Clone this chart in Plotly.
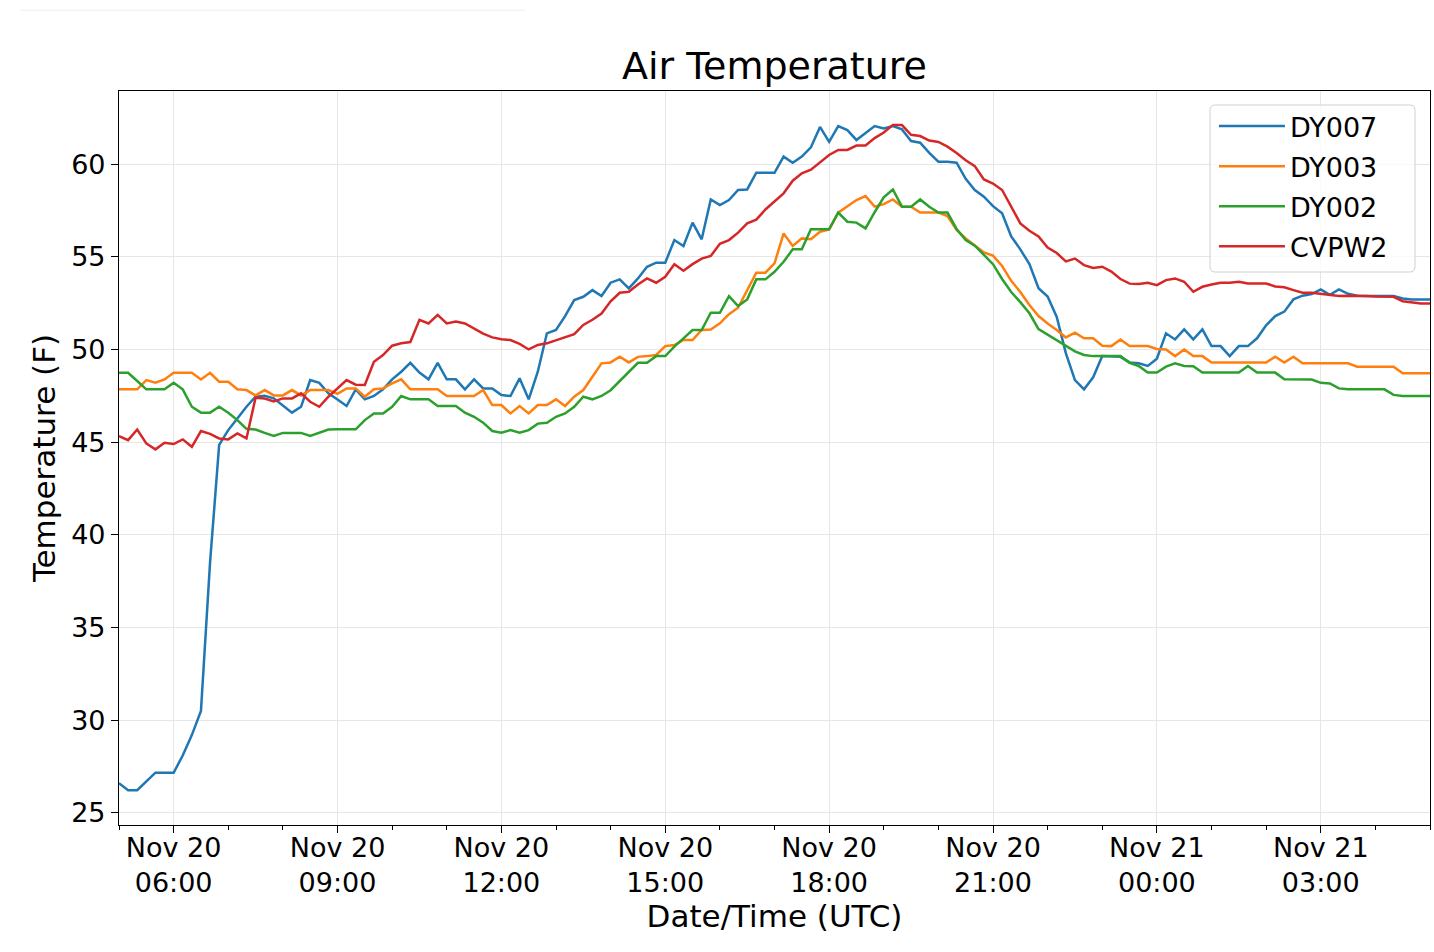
import pandas as pd
import plotly.graph_objects as go

start_time = "2018-11-20 05:00"
n_points = 145
times = pd.date_range(start=start_time, periods=n_points, freq="10min")

series_names = ["DY007", "DY003", "DY002", "CVPW2"]
series_colors = ["#1f77b4", "#ff7f0e", "#2ca02c", "#d62728"]

dy007 = [26.6, 26.23, 26.23, 26.68, 27.17, 27.17, 27.17, 28.1, 29.2, 30.5,
         38.5, 44.85, 45.65, 46.28, 46.91, 47.45, 47.5, 47.36, 47.0, 46.59,
         46.91, 48.35, 48.2, 47.63, 47.3, 46.95, 47.85, 47.31, 47.49, 47.85,
         48.39, 48.8, 49.28, 48.75, 48.39, 49.28, 48.39, 48.39, 47.85, 48.39,
         47.9, 47.9, 47.54, 47.49, 48.44, 47.31, 48.8, 50.87, 51.05, 51.8,
         52.66, 52.84, 53.2, 52.88, 53.6, 53.78, 53.29, 53.83, 54.46, 54.68,
         54.68, 55.9, 55.58, 56.84, 55.94, 58.09, 57.79, 58.06, 58.6, 58.63,
         59.53, 59.53, 59.53, 60.4, 60.07, 60.4, 60.9, 62.0, 61.2, 62.05,
         61.83, 61.3, 61.7, 62.05, 61.92, 62.05, 61.87, 61.24, 61.15, 60.6,
         60.13, 60.13, 60.07, 59.2, 58.6, 58.24, 57.73, 57.34, 56.1, 55.4,
         54.6, 53.3, 52.85, 51.75, 49.8, 48.35, 47.85, 48.5, 49.64, 49.64,
         49.6, 49.3, 49.25, 49.11, 49.5, 50.87, 50.54, 51.08, 50.54, 51.08,
         50.18, 50.18, 49.64, 50.18, 50.18, 50.6, 51.3, 51.8, 52.04, 52.7,
         52.9, 52.99, 53.24, 52.95, 53.24, 53.0, 52.9, 52.88, 52.88, 52.88,
         52.88, 52.75, 52.7, 52.7, 52.7]

dy003 = [47.85, 47.85, 47.85, 48.35, 48.21, 48.38, 48.74, 48.74, 48.74, 48.38,
         48.74, 48.26, 48.26, 47.85, 47.81, 47.52, 47.81, 47.52, 47.52, 47.81,
         47.52, 47.81, 47.81, 47.81, 47.6, 47.9, 47.9, 47.45, 47.85, 47.9,
         48.17, 48.39, 47.85, 47.85, 47.85, 47.85, 47.49, 47.49, 47.49, 47.49,
         47.81, 47.0, 47.0, 46.55, 46.95, 46.55, 47.0, 47.0, 47.31, 46.95,
         47.45, 47.81, 48.53, 49.25, 49.3, 49.61, 49.3, 49.6, 49.64, 49.7,
         50.18, 50.24, 50.51, 50.51, 51.05, 51.08, 51.41, 51.9, 52.25, 53.2,
         54.14, 54.14, 54.64, 56.26, 55.58, 55.99, 55.94, 56.35, 56.48, 57.38,
         57.7, 58.06, 58.27, 57.7, 57.84, 58.09, 57.7, 57.7, 57.38, 57.38,
         57.38, 57.2, 56.45, 55.99, 55.6, 55.23, 55.06, 54.5, 53.7, 53.1,
         52.4, 51.8, 51.4, 51.05, 50.65, 50.9, 50.6, 50.6, 50.2, 50.18,
         50.54, 50.18, 50.18, 50.18, 50.03, 50.0, 49.64, 50.0, 49.64, 49.64,
         49.29, 49.29, 49.29, 49.29, 49.29, 49.29, 49.29, 49.61, 49.29, 49.61,
         49.25, 49.25, 49.25, 49.25, 49.25, 49.25, 49.07, 49.07, 49.07, 49.07,
         49.07, 48.71, 48.71, 48.71, 48.71]

dy002 = [48.74, 48.74, 48.3, 47.85, 47.85, 47.85, 48.2, 47.85, 46.91, 46.59,
         46.59, 46.91, 46.59, 46.19, 45.72, 45.68, 45.5, 45.33, 45.5, 45.5,
         45.5, 45.33, 45.5, 45.68, 45.69, 45.69, 45.69, 46.19, 46.55, 46.55,
         46.91, 47.49, 47.31, 47.31, 47.31, 46.95, 46.95, 46.95, 46.59, 46.37,
         46.05, 45.6, 45.51, 45.65, 45.51, 45.65, 46.0, 46.05, 46.37, 46.55,
         46.91, 47.45, 47.31, 47.49, 47.8, 48.3, 48.8, 49.28, 49.28, 49.64,
         49.64, 50.15, 50.6, 51.05, 51.05, 51.98, 51.98, 52.88, 52.34, 52.7,
         53.78, 53.78, 54.19, 54.73, 55.4, 55.4, 56.48, 56.48, 56.48, 57.38,
         56.89, 56.84, 56.53, 57.4, 58.2, 58.63, 57.7, 57.7, 58.09, 57.7,
         57.38, 57.38, 56.5, 55.9, 55.6, 55.1, 54.6, 53.8, 53.1, 52.55,
         51.95, 51.1, 50.8, 50.5, 50.2, 49.9, 49.7, 49.64, 49.64, 49.64,
         49.64, 49.28, 49.11, 48.75, 48.75, 49.07, 49.25, 49.11, 49.1, 48.75,
         48.75, 48.75, 48.75, 48.75, 49.11, 48.75, 48.75, 48.75, 48.39, 48.39,
         48.38, 48.38, 48.2, 48.17, 47.9, 47.85, 47.85, 47.85, 47.85, 47.85,
         47.55, 47.49, 47.49, 47.49, 47.49]

cvpw2 = [45.33, 45.11, 45.68, 44.93, 44.61, 44.97, 44.9, 45.15, 44.75, 45.6,
         45.45, 45.2, 45.15, 45.47, 45.2, 47.4, 47.35, 47.2, 47.36, 47.36,
         47.63, 47.18, 46.91, 47.45, 47.9, 48.35, 48.1, 48.08, 49.34, 49.7,
         50.2, 50.33, 50.4, 51.6, 51.4, 51.86, 51.4, 51.5, 51.4, 51.14,
         50.85, 50.65, 50.55, 50.51, 50.3, 50.0, 50.24, 50.33, 50.5, 50.65,
         50.83, 51.32, 51.6, 51.94, 52.6, 53.06, 53.11, 53.5, 53.83, 53.6,
         53.92, 54.6, 54.25, 54.6, 54.9, 55.04, 55.7, 55.9, 56.3, 56.8,
         57.0, 57.55, 58.0, 58.42, 59.1, 59.5, 59.7, 60.07, 60.49, 60.76,
         60.76, 61.0, 61.0, 61.4, 61.7, 62.1, 62.1, 61.58, 61.51, 61.27,
         61.19, 60.94, 60.6, 60.2, 59.89, 59.17, 58.95, 58.6, 57.7, 56.8,
         56.4, 56.1, 55.5, 55.2, 54.75, 54.9, 54.55, 54.4, 54.46, 54.2,
         53.8, 53.55, 53.53, 53.6, 53.47, 53.74, 53.83, 53.65, 53.11, 53.38,
         53.5, 53.6, 53.6, 53.65, 53.56, 53.56, 53.56, 53.4, 53.35, 53.2,
         53.06, 53.06, 53.0, 52.9, 52.88, 52.9, 52.9, 52.88, 52.85, 52.84,
         52.84, 52.6, 52.55, 52.48, 52.48]

x_tickvals = ["2018-11-20 06:00", "2018-11-20 09:00", "2018-11-20 12:00",
              "2018-11-20 15:00", "2018-11-20 18:00", "2018-11-20 21:00",
              "2018-11-21 00:00", "2018-11-21 03:00"]
x_ticktext = ["Nov 20<br>06:00", "Nov 20<br>09:00", "Nov 20<br>12:00",
              "Nov 20<br>15:00", "Nov 20<br>18:00", "Nov 20<br>21:00",
              "Nov 21<br>00:00", "Nov 21<br>03:00"]
x_range = ["2018-11-20 05:00", "2018-11-21 05:00"]
y_tickvals = [25, 30, 35, 40, 45, 50, 55, 60]
y_range = [24.35, 63.94]

FONT = "DejaVu Sans"

fig = go.Figure()
for name, vals, col in zip(series_names, [dy007, dy003, dy002, cvpw2], series_colors):
    fig.add_trace(go.Scatter(x=times, y=vals, mode="lines", name=name, legendgroup=name,
                             line=dict(color=col, width=2.5)))

# legend frame (rounded box) in paper coordinates
bx0, bx1, by0, by1 = 0.8322, 0.98856, 0.7534, 0.9809
rx, ry = 0.0040, 0.0072
legend_frame = (f"M {bx0+rx},{by1} L {bx1-rx},{by1} Q {bx1},{by1} {bx1},{by1-ry} "
                f"L {bx1},{by0+ry} Q {bx1},{by0} {bx1-rx},{by0} "
                f"L {bx0+rx},{by0} Q {bx0},{by0} {bx0},{by0+ry} "
                f"L {bx0},{by1-ry} Q {bx0},{by1} {bx0+rx},{by1} Z")

fig.update_layout(
    width=1434, height=952,
    margin=dict(l=119, r=4, t=91, b=127),
    paper_bgcolor="white", plot_bgcolor="white",
    font=dict(family=FONT, color="black", size=27),
    title=dict(text="Air Temperature", x=0.5, xref="paper", y=1 - 66 / 952,
               yref="container", yanchor="middle", xanchor="center",
               font=dict(size=38, family=FONT, color="black")),
    legend=dict(x=0.8352, y=0.985, xanchor="left", yanchor="top",
                bgcolor="rgba(0,0,0,0)", borderwidth=0,
                font=dict(size=27, family=FONT), itemwidth=66,
                tracegroupgap=2),
    showlegend=True,
    shapes=[
        dict(type="line", xref="paper", yref="paper", x0=-0.0755, x1=0.3097,
             y0=1.110, y1=1.110, line=dict(color="#eeeeee", width=1)),
        dict(type="path", xref="paper", yref="paper", path=legend_frame,
             fillcolor="rgba(255,255,255,0.8)", line=dict(color="#d0d0d0", width=1),
             layer="above"),
    ],
)

fig.update_xaxes(
    type="date", range=x_range, tickvals=x_tickvals, ticktext=x_ticktext,
    ticks="outside", ticklen=7, tickwidth=1, tickcolor="black",
    ticklabelstandoff=-9,
    showline=True, linecolor="black", linewidth=1.2, mirror=True,
    showgrid=True, gridcolor="#e6e6e6", gridwidth=1.2, zeroline=False,
    tickfont=dict(size=27, family=FONT),
    minor=dict(dtick=3600000, ticks="outside", ticklen=4, tickcolor="black", showgrid=False),
    title=dict(text="Date/Time (UTC)", font=dict(size=31, family=FONT), standoff=2),
)
fig.update_yaxes(
    range=y_range, tickvals=y_tickvals,
    ticks="outside", ticklen=7, tickwidth=1, tickcolor="black",
    showline=True, linecolor="black", linewidth=1.2, mirror=True,
    showgrid=True, gridcolor="#e6e6e6", gridwidth=1.2, zeroline=False,
    tickfont=dict(size=27, family=FONT),
    title=dict(text="Temperature (F)", font=dict(size=31, family=FONT), standoff=6),
)

fig.write_html("out.html", config={"displayModeBar": False},
               post_script="document.body.style.margin='0';document.body.style.overflow='hidden';")
